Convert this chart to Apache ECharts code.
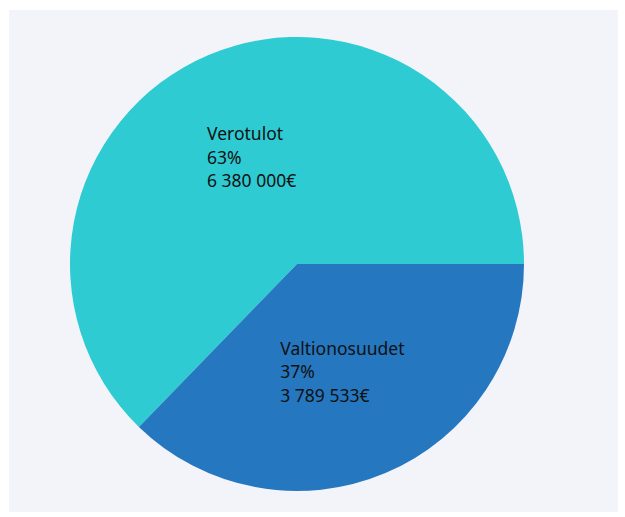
<!DOCTYPE html>
<html>
<head>
<meta charset="utf-8">
<script src="https://cdn.jsdelivr.net/npm/echarts@6/dist/echarts.min.js"></script>
<style>
  html, body { margin: 0; padding: 0; background: #ffffff; }
  #chart { position: absolute; left: 9px; top: 10px; width: 609px; height: 502px; background: #f3f4f9; }
</style>
</head>
<body>
<div id="chart"></div>
<script>
// Revenue split (pie)
const categories = ['Verotulot', 'Valtionosuudet'];
const amounts = [6380000, 3789533];
const colors = ['#2ecbd3', '#2577c0'];

// 6380000 -> "6 380 000"
function formatAmount(v) {
  return String(v).replace(/\B(?=(\d{3})+(?!\d))/g, ' ');
}

const chart = echarts.init(document.getElementById('chart'), null, { renderer: 'svg' });

chart.setOption({
  animation: false,
  color: colors,
  series: [{
    type: 'pie',
    center: [288, 254],
    radius: [0, 227],
    startAngle: 0,
    clockwise: false,
    avoidLabelOverlap: false,
    itemStyle: { borderWidth: 0 },
    label: {
      position: 'inside',
      formatter: p => `{t|${p.name}}\n{t|${Math.round(p.percent)}%}\n{t|${formatAmount(p.value)}€}`,
      rich: {
        t: {
          align: 'left',
          fontFamily: 'Noto Sans',
          fontSize: 17.5,
          lineHeight: 23.5,
          color: '#111111'
        }
      }
    },
    labelLine: { show: false },
    emphasis: { disabled: true },
    data: categories.map((name, i) => ({ name, value: amounts[i] }))
  }]
});
</script>
</body>
</html>
